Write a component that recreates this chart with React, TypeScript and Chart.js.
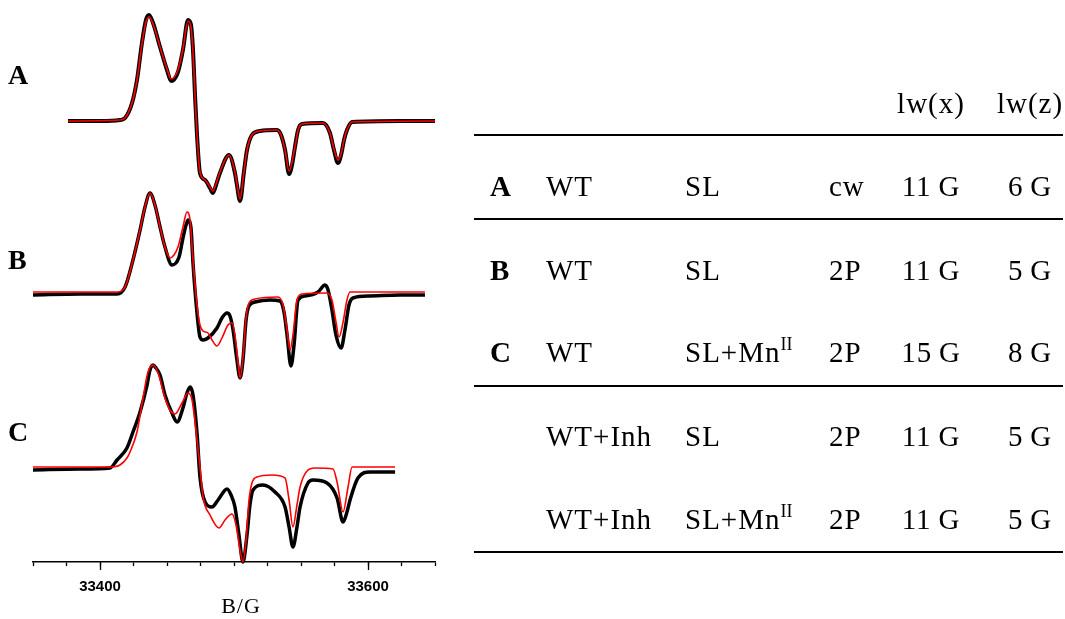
import React, { useEffect, useRef } from "react";
import { Chart, registerables } from "chart.js";

Chart.register(...registerables);

// ---- Data (field B in gauss, intensity in arbitrary units relative to each trace's baseline) ----
const fieldA_exp = [33376.1, 33400, 33414.9, 33418.7, 33423.9, 33427.6, 33431.3, 33434.3, 33436.6, 33439.6, 33444.8, 33450.0, 33453.0, 33458.2, 33461.9, 33465.7, 33467.9, 33469.4, 33470.9, 33472.4, 33474.6, 33478.4, 33482.1, 33484.3, 33486.6, 33489.5, 33496.3, 33500.7, 33502.2, 33504.5, 33507.4, 33509.7, 33513.4, 33519.4, 33532.1, 33535.1, 33538.1, 33541.1, 33543.3, 33545.5, 33547.8, 33550.8, 33566.4, 33571.6, 33574.6, 33577.6, 33579.9, 33582.1, 33584.3, 33588.1, 33623.9, 33650];
const intA_exp = [0, 0, 1, 3, 18, 41, 78, 101, 106, 98, 74, 51, 40, 49, 71, 101, 96, 71, 26, -14, -52, -59, -67, -72, -64, -52, -34, -52, -64, -80, -51, -29, -14, -10, -9, -14, -29, -53, -44, -26, -9, -3, -2, -12, -29, -42, -34, -19, -9, -1, 0, 0];

const fieldA_sim = [33376.1, 33414.9, 33418.7, 33423.9, 33427.6, 33431.3, 33434.3, 33436.6, 33439.6, 33444.8, 33450.0, 33453.0, 33458.2, 33461.9, 33465.7, 33467.9, 33469.4, 33470.9, 33472.4, 33474.6, 33478.4, 33482.1, 33484.3, 33486.6, 33489.5, 33496.3, 33500.7, 33502.2, 33504.5, 33507.4, 33509.7, 33513.4, 33519.4, 33532.1, 33535.1, 33538.1, 33541.1, 33545.5, 33547.8, 33550.8, 33566.4, 33571.6, 33574.6, 33577.6, 33579.9, 33582.1, 33584.3, 33588.1, 33650];
const intA_sim = [0, 1, 3, 18, 41, 77, 99, 104, 97, 74, 52, 42, 51, 72, 100, 94, 69, 26, -14, -51, -59, -66, -70, -63, -51, -34, -51, -63, -78, -51, -29, -14, -10, -9, -14, -29, -50, -26, -9, -3, -2, -12, -28, -39, -33, -19, -9, -1, 0];

const fieldB_exp = [33350, 33385.1, 33412.7, 33418.7, 33424.6, 33429.9, 33433.6, 33437.3, 33441.0, 33444.8, 33448.5, 33453.7, 33459.0, 33461.9, 33464.2, 33465.7, 33467.9, 33469.4, 33472.4, 33474.6, 33476.9, 33480.6, 33487.3, 33491.0, 33494.8, 33497.0, 33499.3, 33502.2, 33504.5, 33506.7, 33509.0, 33511.2, 33515.7, 33526.9, 33534.3, 33537.3, 33539.6, 33542.5, 33544.8, 33547.8, 33553.0, 33562.7, 33567.9, 33570.2, 33573.1, 33576.1, 33579.9, 33582.8, 33585.8, 33588.8, 33601.5, 33623.9, 33642.5];
const intB_exp = [-2, -1, -1, 6, 33, 63, 86, 100, 88, 66, 46, 28, 36, 55, 68, 73, 65, 30, -20, -44, -47, -45, -35, -25, -20, -23, -37, -67, -85, -67, -27, -13, -9, -7, -8, -19, -42, -73, -52, -7, -3, 1, 8, 3, -17, -42, -55, -37, -12, -5, -3, -2, -2];

const fieldB_sim = [33350, 33412.7, 33418.7, 33424.6, 33429.9, 33433.6, 33437.3, 33441.0, 33444.8, 33448.5, 33452.2, 33455.2, 33458.2, 33461.9, 33464.9, 33467.2, 33469.4, 33472.4, 33474.6, 33476.9, 33480.6, 33483.6, 33487.3, 33491.0, 33495.5, 33498.5, 33500.7, 33503.0, 33504.5, 33506.7, 33509.0, 33511.2, 33515.7, 33532.8, 33536.6, 33539.6, 33541.8, 33544.0, 33547.0, 33550.8, 33569.4, 33573.1, 33576.1, 33578.4, 33581.4, 33584.3, 33586.6, 33642.5];
const intB_sim = [1, 1, 6, 33, 63, 86, 100, 88, 66, 46, 35, 38, 46, 66, 81, 73, 33, -12, -32, -38, -40, -47, -53, -45, -32, -30, -42, -69, -85, -65, -25, -10, -6, -4, -12, -37, -57, -42, -7, -1, 0, -7, -29, -44, -29, -7, 1, 1];

const fieldC_exp = [33350, 33385.1, 33407.5, 33412.7, 33420.1, 33424.6, 33429.9, 33435.1, 33437.3, 33439.6, 33441.8, 33444.8, 33448.5, 33453.7, 33457.5, 33461.9, 33464.9, 33467.2, 33469.4, 33472.4, 33474.6, 33478.4, 33483.6, 33488.1, 33494.8, 33497.8, 33500.7, 33503.7, 33506.7, 33509.7, 33511.9, 33514.2, 33521.6, 33530.6, 33538.1, 33541.1, 33544.0, 33547.0, 33549.3, 33555.2, 33559.0, 33569.4, 33576.9, 33581.4, 33584.3, 33586.6, 33592.5, 33601.5, 33620.2];
const intC_exp = [-3, -2, -1, 7, 19, 35, 55, 82, 97, 102, 99, 92, 72, 54, 45, 59, 74, 80, 72, 34, -10, -35, -40, -33, -22, -28, -40, -68, -95, -68, -38, -23, -18, -25, -40, -60, -80, -60, -40, -16, -13, -16, -31, -55, -45, -33, -11, -5, -5];

const fieldC_sim = [33350, 33407.5, 33414.9, 33420.1, 33422.4, 33427.6, 33432.1, 33435.8, 33439.6, 33443.3, 33448.5, 33452.2, 33456.0, 33461.2, 33465.7, 33468.7, 33471.6, 33474.6, 33476.9, 33482.1, 33488.8, 33493.3, 33498.5, 33501.5, 33504.5, 33506.7, 33509.0, 33511.2, 33513.4, 33517.2, 33528.4, 33538.1, 33541.1, 33544.0, 33547.0, 33549.3, 33554.5, 33560.5, 33573.9, 33576.9, 33581.4, 33585.1, 33588.1, 33620.2];
const intC_sim = [0, 0, 2, 9, 15, 35, 69, 95, 102, 94, 69, 57, 53, 64, 74, 67, 37, 0, -30, -48, -61, -53, -47, -58, -83, -95, -73, -33, -16, -10, -8, -11, -33, -60, -38, -20, -4, -1, -2, -15, -45, -20, 0, 0];

const traceLabels = ["A", "B", "C"];
const traceOffsets = [441, 269, 95];

const xMin = 33350;
const xMax = 33650;
const xStep = 25;
const labelledTicks = [33400, 33600];
const xTitle = "B/G";

const tableHeader = ["", "", "", "", "lw(x)", "lw(z)"];
const tableRows = [
  ["A", "WT", "SL", "cw", "11\u202FG", "6\u202FG"],
  ["B", "WT", "SL", "2P", "11\u202FG", "5\u202FG"],
  ["C", "WT", "SL+Mn^II", "2P", "15\u202FG", "8\u202FG"],
  ["", "WT+Inh", "SL", "2P", "11\u202FG", "5\u202FG"],
  ["", "WT+Inh", "SL+Mn^II", "2P", "11\u202FG", "5\u202FG"],
];

function pts(f: number[], v: number[], off: number) {
  return f.map((x, i) => ({ x, y: v[i] + off }));
}

const majorTickPlugin = {
  id: "majorTicks",
  afterDraw(chart: any) {
    const s = chart.scales.x;
    const ctx = chart.ctx;
    ctx.save();
    ctx.strokeStyle = "#000";
    ctx.lineWidth = 1.3;
    for (const v of labelledTicks) {
      const px = Math.round(s.getPixelForValue(v)) + 0.5;
      ctx.beginPath();
      ctx.moveTo(px, s.top);
      ctx.lineTo(px, s.top + 8);
      ctx.stroke();
    }
    ctx.restore();
  },
};

const serif = "'Liberation Serif', 'DejaVu Serif', serif";

function Cell({ x, y, text, align, bold }: { x: number; y: number; text: string; align: "left" | "center"; bold?: boolean }) {
  const parts = text.split("^");
  return (
    <div
      style={{
        position: "absolute",
        left: x,
        top: y,
        transform: align === "center" ? "translate(-50%, -50%)" : "translate(0, -50%)",
        fontFamily: serif,
        fontSize: 29,
        letterSpacing: bold ? 0 : 1,
        lineHeight: 1,
        fontWeight: bold ? 700 : 400,
        whiteSpace: "nowrap",
        color: "#000",
      }}
    >
      {parts[0]}
      {parts[1] ? (
        <span style={{ fontSize: 18, position: "relative", top: -12, letterSpacing: 0 }}>{parts[1]}</span>
      ) : null}
    </div>
  );
}

export default function App() {
  const ref = useRef<HTMLCanvasElement | null>(null);

  useEffect(() => {
    if (!ref.current) return;
    const exp = [
      pts(fieldA_exp, intA_exp, traceOffsets[0]),
      pts(fieldB_exp, intB_exp, traceOffsets[1]),
      pts(fieldC_exp, intC_exp, traceOffsets[2]),
    ];
    const sim = [
      pts(fieldA_sim, intA_sim, traceOffsets[0]),
      pts(fieldB_sim, intB_sim, traceOffsets[1]),
      pts(fieldC_sim, intC_sim, traceOffsets[2]),
    ];
    const datasets: any[] = [];
    traceLabels.forEach((lab, i) => {
      datasets.push({
        label: lab + " experiment",
        data: exp[i],
        borderColor: "#000",
        borderWidth: i === 0 ? 4 : 3.5,
        pointRadius: 0,
        cubicInterpolationMode: "monotone",
        fill: false,
        order: 2,
        clip: 12,
      });
      datasets.push({
        label: lab + " simulation",
        data: sim[i],
        borderColor: "#ff0000",
        borderWidth: 1.6,
        pointRadius: 0,
        cubicInterpolationMode: "monotone",
        fill: false,
        order: 1,
        clip: 12,
      });
    });

    const chart = new Chart(ref.current, {
      type: "line",
      data: { datasets },
      plugins: [majorTickPlugin],
      options: {
        animation: false,
        responsive: false,
        devicePixelRatio: 1,
        parsing: false as any,
        layout: { padding: { left: 33, right: 630, top: 0, bottom: 0 } },
        plugins: { legend: { display: false }, tooltip: { enabled: false } },
        scales: {
          x: {
            type: "linear",
            min: xMin,
            max: xMax,
            afterFit: (s: any) => {
              s.height = 57;
            },
            border: { display: true, color: "#000", width: 1.5 },
            grid: { drawOnChartArea: false, drawTicks: true, tickLength: 4, color: "#000", tickWidth: 1.3 } as any,
            ticks: {
              stepSize: xStep,
              autoSkip: false,
              maxRotation: 0,
              padding: 12,
              color: "#000",
              font: { family: "'Liberation Sans', Arial, sans-serif", size: 15, weight: "bold" },
              callback: (v: any) => (labelledTicks.includes(Number(v)) ? String(v) : ""),
            },
          },
          y: { display: false, min: 0, max: 562 },
        },
      },
    });
    return () => chart.destroy();
  }, []);

  const colX = [490, 546, 685, 829, 931, 1030];
  const colAlign: ("left" | "center")[] = ["left", "left", "left", "left", "center", "center"];
  const rowY = [186, 270, 352, 436, 519];
  const lines = [135, 219, 386, 552];
  const labelY = [75, 260, 432];

  return (
    <div style={{ position: "absolute", left: 0, top: 0, width: 1065, height: 619, background: "#fff" }}>
      <canvas ref={ref} width={1065} height={619} style={{ position: "absolute", left: 0, top: 0 }} />
      {traceLabels.map((l, i) => (
        <div
          key={l}
          style={{
            position: "absolute",
            left: 8,
            top: labelY[i],
            transform: "translate(0,-50%)",
            fontFamily: serif,
            fontWeight: 700,
            fontSize: 28,
            lineHeight: 1,
          }}
        >
          {l}
        </div>
      ))}
      <div
        style={{
          position: "absolute",
          left: 241,
          top: 606,
          transform: "translate(-50%,-50%)",
          fontFamily: serif,
          fontSize: 22,
          lineHeight: 1,
          letterSpacing: 1,
        }}
      >
        {xTitle}
      </div>
      {tableHeader.map((h, j) =>
        h ? <Cell key={"h" + j} x={colX[j]} y={103} text={h} align={colAlign[j]} /> : null
      )}
      {tableRows.map((r, i) =>
        r.map((c, j) =>
          c ? <Cell key={i + "-" + j} x={colX[j]} y={rowY[i]} text={c} align={colAlign[j]} bold={j === 0} /> : null
        )
      )}
      {lines.map((y) => (
        <div key={y} style={{ position: "absolute", left: 474, width: 589, top: y - 1, height: 2, background: "#000" }} />
      ))}
    </div>
  );
}
